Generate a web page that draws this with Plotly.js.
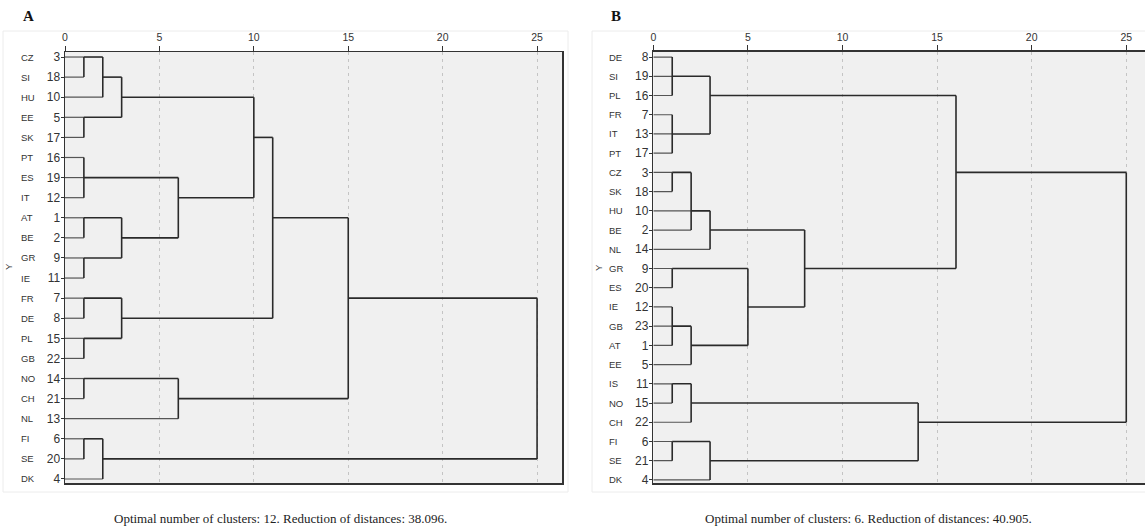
<!DOCTYPE html>
<html>
<head>
<meta charset="utf-8">
<script src="https://cdn.plot.ly/plotly-3.0.1.min.js"></script>
<style>html,body{margin:0;padding:0;background:#fff;} #chart{width:1145px;height:531px;}</style>
</head>
<body>
<div id="chart"></div>
<script>
// ---------- Panel A data ----------
const labelsA = ["CZ","SI","HU","EE","SK","PT","ES","IT","AT","BE","GR","IE","FR","DE","PL","GB","NO","CH","NL","FI","SE","DK"];
const casesA  = [3,18,10,5,17,16,19,12,1,2,9,11,7,8,15,22,14,21,13,6,20,4];
const mergesA = [
  ["CZ","SI"], ["m0","HU"], ["EE","SK"], ["m1","m2"],
  ["PT","ES","IT"], ["AT","BE"], ["GR","IE"], ["m5","m6"], ["m4","m7"],
  ["m3","m8"], ["FR","DE"], ["PL","GB"], ["m10","m11"], ["m9","m12"],
  ["NO","CH"], ["m14","NL"], ["m13","m15"], ["FI","SE"], ["m17","DK"], ["m16","m18"]
];
const heightsA = [1,2,1,3, 1,1,1,3,6, 10,1,1,3,11, 1,6,15,1,2,25];
const captionA = "Optimal number of clusters: 12. Reduction of distances: 38.096.";

// ---------- Panel B data ----------
const labelsB = ["DE","SI","PL","FR","IT","PT","CZ","SK","HU","BE","NL","GR","ES","IE","GB","AT","EE","IS","NO","CH","FI","SE","DK"];
const casesB  = [8,19,16,7,13,17,3,18,10,2,14,9,20,12,23,1,5,11,15,22,6,21,4];
const mergesB = [
  ["DE","SI","PL"], ["FR","IT","PT"], ["m0","m1"], ["CZ","SK"], ["m3","HU","BE"],
  ["m4","NL"], ["GR","ES"], ["IE","GB","AT"], ["m7","EE"], ["m6","m8"],
  ["m5","m9"], ["m2","m10"], ["IS","NO"], ["m12","CH"], ["FI","SE"],
  ["m14","DK"], ["m13","m15"], ["m11","m16"]
];
const heightsB = [1,1,3,1,2, 3,1,1,2,5, 8,16,1,2,1, 3,14,25];
const captionB = "Optimal number of clusters: 6. Reduction of distances: 40.905.";

const xTicks = [0,5,10,15,20,25];

function buildSegments(labels, merges, heights){
  const pos = {};
  labels.forEach((l,i)=>{ pos[l] = {x:0, y:i, leaf:true}; });
  const leafX=[], leafY=[], nodeX=[], nodeY=[];
  merges.forEach((ch,k)=>{
    const h = heights[k];
    const kids = ch.map(c=>pos[c]);
    const ys = kids.map(p=>p.y).sort((a,b)=>a-b);
    let ny;
    if (ys.length === 2) ny = Math.floor((ys[0]+ys[1])/2);
    else ny = ys[Math.floor(ys.length/2)];
    kids.forEach(p=>{
      if (p.leaf){ leafX.push(p.x,h,null); leafY.push(p.y,p.y,null); }
      else { nodeX.push(p.x,h,null); nodeY.push(p.y,p.y,null); }
    });
    nodeX.push(h,h,null); nodeY.push(ys[0],ys[ys.length-1],null);
    pos["m"+k] = {x:h, y:ny, leaf:false};
  });
  return {leafX,leafY,nodeX,nodeY};
}

const W=1145, H=531;
const sA = buildSegments(labelsA, mergesA, heightsA);
const sB = buildSegments(labelsB, mergesB, heightsB);

const traces = [
  {x:sA.leafX, y:sA.leafY, xaxis:'x', yaxis:'y', mode:'lines', line:{color:'#555',width:1.2}, hoverinfo:'skip', showlegend:false},
  {x:sA.nodeX, y:sA.nodeY, xaxis:'x', yaxis:'y', mode:'lines', line:{color:'#2a2a2a',width:1.6}, hoverinfo:'skip', showlegend:false},
  {x:sB.leafX, y:sB.leafY, xaxis:'x2', yaxis:'y2', mode:'lines', line:{color:'#555',width:1.2}, hoverinfo:'skip', showlegend:false},
  {x:sB.nodeX, y:sB.nodeY, xaxis:'x2', yaxis:'y2', mode:'lines', line:{color:'#2a2a2a',width:1.6}, hoverinfo:'skip', showlegend:false}
];

const tickFont = {family:'Liberation Sans, Arial, sans-serif', size:10.5, color:'#333'};
function xax(domain, range){
  return {domain:domain, range:range, side:'top', tickvals:xTicks, ticks:'outside', ticklen:5, tickcolor:'#333',
    showgrid:true, gridcolor:'#c4c4c4', griddash:'3px,4px', gridwidth:1, zeroline:false,
    showline:true, linecolor:'#333', linewidth:1.5, mirror:true, tickfont:tickFont, fixedrange:true};
}
function yax(domain, range, n, cases, anchor){
  return {domain:domain, range:range, anchor:anchor, tickvals:[...Array(n).keys()], ticktext:cases.map(String),
    ticks:'outside', ticklen:3, tickcolor:'#333', ticklabelstandoff:-2, showgrid:false, zeroline:false,
    showline:true, linecolor:'#333', linewidth:1.5, mirror:true, tickfont:{family:'Liberation Sans, Arial, sans-serif', size:12, color:'#333'}, fixedrange:true};
}

const yDomA = [1-483/H, 1-52/H];
const yDomB = [1-483/H, 1-51.5/H];

const annotations = [];
const labFont = {family:'Liberation Sans, Arial, sans-serif', size:9.5, color:'#333'};
labelsA.forEach((l,i)=>annotations.push({text:l, x:19/W, xref:'paper', y:i, yref:'y', xanchor:'left', yanchor:'middle', showarrow:false, font:labFont}));
labelsB.forEach((l,i)=>annotations.push({text:l, x:607/W, xref:'paper', y:i, yref:'y2', xanchor:'left', yanchor:'middle', showarrow:false, font:labFont}));
annotations.push({text:'Y', x:8/W, y:1-267/H, xref:'paper', yref:'paper', showarrow:false, textangle:-90, font:labFont, xanchor:'center', yanchor:'middle'});
annotations.push({text:'Y', x:598/W, y:1-268/H, xref:'paper', yref:'paper', showarrow:false, textangle:-90, font:labFont, xanchor:'center', yanchor:'middle'});
annotations.push({text:'<b>A</b>', x:21/W, y:1-16/H, xref:'paper', yref:'paper', showarrow:false, xanchor:'left', yanchor:'middle', font:{family:'Liberation Serif, Times New Roman, serif', size:15, color:'#111'}});
annotations.push({text:'<b>B</b>', x:609/W, y:1-16/H, xref:'paper', yref:'paper', showarrow:false, xanchor:'left', yanchor:'middle', font:{family:'Liberation Serif, Times New Roman, serif', size:15, color:'#111'}});
const capFont = {family:'Liberation Serif, Times New Roman, serif', size:13, color:'#222'};
annotations.push({text:captionA, x:280/W, y:1-518/H, xref:'paper', yref:'paper', showarrow:false, xanchor:'center', yanchor:'middle', font:capFont});
annotations.push({text:captionB, x:868/W, y:1-518/H, xref:'paper', yref:'paper', showarrow:false, xanchor:'center', yanchor:'middle', font:capFont});

const shapes = [
  {type:'rect', xref:'paper', yref:'paper', x0:3/W, x1:568/W, y0:1-492/H, y1:1-31/H, line:{color:'#ececec', width:1}, layer:'below'},
  {type:'rect', xref:'paper', yref:'paper', x0:592/W, x1:1150/W, y0:1-492/H, y1:1-31/H, line:{color:'#ececec', width:1}, layer:'below'}
];

const layout = {
  width:W, height:H, margin:{l:0,r:0,t:0,b:0}, paper_bgcolor:'#fff', plot_bgcolor:'#f0f0f0',
  showlegend:false,
  xaxis: xax([65/W, 562/W], [0, 26.32]),
  yaxis: yax(yDomA, [21.2, -0.25], labelsA.length, casesA, 'x'),
  xaxis2: Object.assign(xax([653.3/W, 1], [0, 25.99]), {anchor:'y2'}),
  yaxis2: yax(yDomB, [22.16, -0.29], labelsB.length, casesB, 'x2'),
  annotations: annotations, shapes: shapes
};
layout.xaxis.anchor = 'y';

Plotly.newPlot('chart', traces, layout, {displayModeBar:false, staticPlot:true});
</script>
</body>
</html>
